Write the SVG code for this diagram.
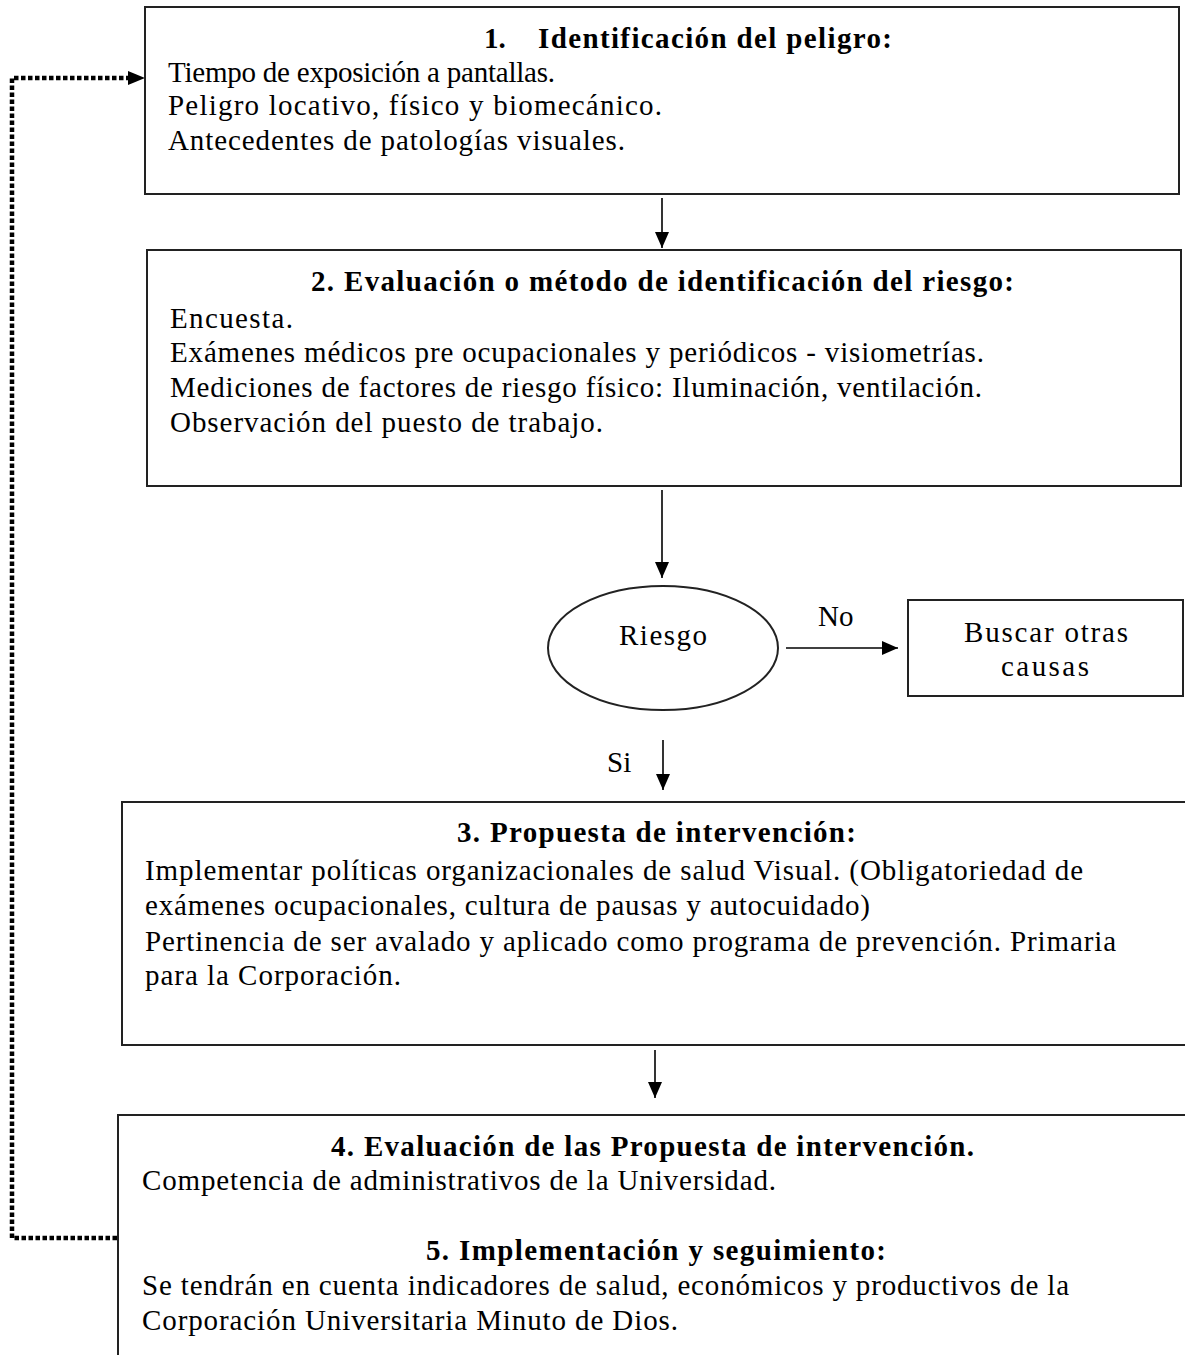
<svg xmlns="http://www.w3.org/2000/svg" width="1185" height="1355" viewBox="0 0 1185 1355">
<defs>
<marker id="ahb" viewBox="0 0 16 14" refX="16" refY="7" markerWidth="16" markerHeight="14" markerUnits="userSpaceOnUse" orient="auto">
<path d="M0,0 L16,7 L0,14 Z" fill="#000"/>
</marker>
</defs>
<style>
.box{fill:#fff;stroke:#222;stroke-width:2}
text{font-family:"Liberation Serif","Times New Roman",serif;font-size:29px;fill:#000}
.b{font-weight:bold}
.c{stroke:#000;stroke-width:1.6;fill:none}
.d{stroke:#000;stroke-width:4.5;fill:none;stroke-dasharray:4.5 2.5}
</style>
<rect width="1185" height="1355" fill="#fff"/>
<g id="connectors">
<path class="c" d="M662,198 V248" marker-end="url(#ahb)"/>
<path class="c" d="M662,490 V578" marker-end="url(#ahb)"/>
<path class="c" d="M786,648 H898" marker-end="url(#ahb)"/>
<path class="c" d="M663,740 V790" marker-end="url(#ahb)"/>
<path class="c" d="M655,1050 V1098" marker-end="url(#ahb)"/>
<path class="d" d="M117,1238 H12 V78 H130"/>
<path d="M128,71 L145,78 L128,85 Z" fill="#000"/>
<text x="818" y="626">No</text>
<text x="607" y="772">Si</text>
</g>
<g id="node1">
<rect class="box" x="145" y="7" width="1034" height="187"/>
<text class="b" x="484" y="48">1.</text>
<text class="b" x="538" y="48" textLength="354">Identificación del peligro:</text>
<text x="168" y="82" textLength="387">Tiempo de exposición a pantallas.</text>
<text x="168" y="115" textLength="494">Peligro locativo, físico y biomecánico.</text>
<text x="168" y="150" textLength="457">Antecedentes de patologías visuales.</text>
</g>
<g id="node2">
<rect class="box" x="147" y="250" width="1034" height="236"/>
<text class="b" x="311" y="291" textLength="703">2. Evaluación o método de identificación del riesgo:</text>
<text x="170" y="328" textLength="123">Encuesta.</text>
<text x="170" y="362" textLength="814">Exámenes médicos pre ocupacionales y periódicos - visiometrías.</text>
<text x="170" y="397" textLength="812">Mediciones de factores de riesgo físico: Iluminación, ventilación.</text>
<text x="170" y="432" textLength="433">Observación del puesto de trabajo.</text>
</g>
<g id="riesgo">
<ellipse class="box" cx="663" cy="648" rx="115" ry="62"/>
<text x="619" y="645" textLength="88">Riesgo</text>
</g>
<g id="buscar">
<rect class="box" x="908" y="600" width="275" height="96"/>
<text x="964" y="642" textLength="164">Buscar otras</text>
<text x="1001" y="676" textLength="88">causas</text>
</g>
<g id="node3">
<rect class="box" x="122" y="802" width="1080" height="243"/>
<text class="b" x="457" y="842" textLength="399">3. Propuesta de intervención:</text>
<text x="145" y="880" textLength="938">Implementar políticas organizacionales de salud Visual. (Obligatoriedad de</text>
<text x="145" y="915" textLength="725">exámenes ocupacionales, cultura de pausas y autocuidado)</text>
<text x="145" y="951" textLength="971">Pertinencia de ser avalado y aplicado como programa de prevención. Primaria</text>
<text x="145" y="985" textLength="256">para la Corporación.</text>
</g>
<g id="node4">
<rect class="box" x="118" y="1115" width="1090" height="280"/>
<text class="b" x="331" y="1156" textLength="643">4. Evaluación de las Propuesta de intervención.</text>
<text x="142" y="1190" textLength="634">Competencia de administrativos de la Universidad.</text>
<text class="b" x="426" y="1260" textLength="460">5. Implementación y seguimiento:</text>
<text x="142" y="1295" textLength="927">Se tendrán en cuenta indicadores de salud, económicos y productivos de la</text>
<text x="142" y="1330" textLength="536">Corporación Universitaria Minuto de Dios.</text>
</g>
</svg>
